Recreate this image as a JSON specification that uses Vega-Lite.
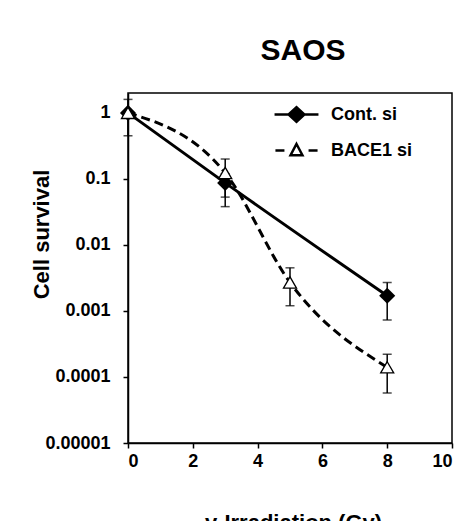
{
  "$schema": "https://vega.github.io/schema/vega-lite/v6.json",
  "width": 324,
  "height": 350,
  "autosize": {"type": "none"},
  "padding": {"left": 128, "top": 93, "right": 8, "bottom": 78},
  "background": "white",
  "title": {"text": "SAOS", "font": "Liberation Sans", "fontSize": 30, "fontWeight": "bold", "color": "black", "offset": 27, "dx": 13, "anchor": "middle", "frame": "group"},
  "config": {
    "view": {"stroke": "black", "strokeWidth": 1.5},
    "axis": {"labelFont": "Liberation Sans", "labelFontSize": 18, "labelFontWeight": "bold", "labelColor": "black", "titleFont": "Liberation Sans", "titleFontSize": 22, "titleFontWeight": "bold", "titleColor": "black", "domainColor": "black", "domainWidth": 1.5, "tickColor": "black", "tickWidth": 1.5, "tickSize": 5, "grid": false},
    "legend": {"labelFont": "Liberation Sans", "labelFontSize": 18, "labelFontWeight": "bold", "labelColor": "black"}
  },
  "data": {"values": [
    {"series": "Cont. si", "dose": 0, "survival": 1},
    {"series": "Cont. si", "dose": 3, "survival": 0.087, "lo": 0.053, "hi": 0.12},
    {"series": "Cont. si", "dose": 8, "survival": 0.0017, "lo": 0.00073, "hi": 0.0027},
    {"series": "BACE1 si", "dose": 0, "survival": 1, "lo": 0.45, "hi": 1.6},
    {"series": "BACE1 si", "dose": 3, "survival": 0.123, "lo": 0.038, "hi": 0.2},
    {"series": "BACE1 si", "dose": 5, "survival": 0.0027, "lo": 0.0012, "hi": 0.0045},
    {"series": "BACE1 si", "dose": 8, "survival": 0.00014, "lo": 0.000057, "hi": 0.00022}
  ]},
  "encoding": {
    "x": {"field": "dose", "type": "quantitative", "scale": {"domain": [0, 10], "nice": false}, "axis": {"values": [0, 2, 4, 6, 8, 10], "labelPadding": 4, "title": "γ-Irradiation (Gy)", "titleX": 165, "titleY": 69, "titleBaseline": "top"}},
    "y": {"field": "survival", "type": "quantitative", "scale": {"type": "log", "domain": [0.00001, 2], "nice": false}, "axis": {"values": [1, 0.1, 0.01, 0.001, 0.0001, 0.00001], "format": ".5~f", "labelPadding": 13, "title": "Cell survival", "titleX": -87, "titleY": 141, "titleAngle": -90, "titleBaseline": "middle", "titleAlign": "center"}}
  },
  "layer": [
    {
      "transform": [{"filter": "datum.series === 'Cont. si'"}],
      "mark": {"type": "line", "color": "black", "strokeWidth": 3, "interpolate": "monotone"}
    },
    {
      "transform": [{"filter": "datum.series === 'BACE1 si'"}],
      "mark": {"type": "line", "color": "black", "strokeWidth": 3, "interpolate": "monotone", "strokeDash": [9, 5]}
    },
    {
      "mark": {"type": "rule", "color": "black", "strokeWidth": 1.5},
      "encoding": {"y": {"field": "lo", "type": "quantitative"}, "y2": {"field": "hi"}}
    },
    {
      "mark": {"type": "tick", "orient": "horizontal", "color": "black", "size": 9, "thickness": 1.5},
      "encoding": {"y": {"field": "lo", "type": "quantitative"}}
    },
    {
      "mark": {"type": "tick", "orient": "horizontal", "color": "black", "size": 9, "thickness": 1.5},
      "encoding": {"y": {"field": "hi", "type": "quantitative"}}
    },
    {
      "transform": [{"filter": "datum.series === 'Cont. si'"}],
      "mark": {"type": "point", "shape": "diamond", "size": 260, "filled": true, "color": "black", "opacity": 1}
    },
    {
      "transform": [{"filter": "datum.series === 'BACE1 si'"}],
      "mark": {"type": "point", "shape": "triangle-up", "size": 170, "filled": true, "fill": "white", "stroke": "black", "strokeWidth": 1.3, "opacity": 1}
    },
    {
      "mark": {"type": "point", "filled": true, "stroke": "black", "strokeWidth": 2.5, "opacity": 0, "size": 1296},
      "encoding": {
        "fill": {"field": "series", "type": "nominal", "scale": {"domain": ["Cont. si", "BACE1 si"], "range": ["black", "white"]},
          "legend": {"title": "", "orient": "none", "legendX": 149, "legendY": 2, "symbolSize": 1296, "symbolOpacity": 1, "symbolStrokeColor": "black", "symbolStrokeWidth": 2.5, "labelOffset": 15, "rowPadding": 4,
            "encode": {"symbols": {"update": {"stroke": {"value": "black"}, "strokeWidth": {"value": 2.5}, "opacity": {"value": 1}}}}}},
        "shape": {"field": "series", "type": "nominal", "scale": {"domain": ["Cont. si", "BACE1 si"], "range": ["M-1.22,0H1.22M-0.44,0L0,-0.4L0.44,0L0,0.4Z", "M-1.17,0H-0.67M0.67,0H1.17M0,-0.36L0.33,0.26L-0.33,0.26Z"]},
          "legend": {"title": "", "orient": "none", "legendX": 149, "legendY": 2, "symbolSize": 1296, "symbolOpacity": 1, "symbolStrokeColor": "black", "symbolStrokeWidth": 2.5, "labelOffset": 15, "rowPadding": 4,
            "encode": {"symbols": {"update": {"stroke": {"value": "black"}, "strokeWidth": {"value": 2.5}, "opacity": {"value": 1}}}}}}
      }
    }
  ]
}
